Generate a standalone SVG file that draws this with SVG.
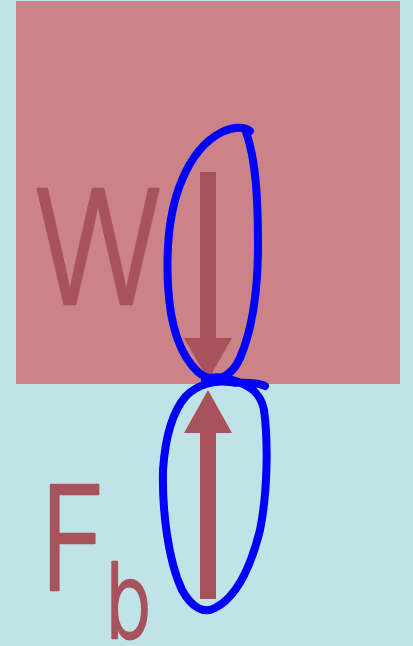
<svg xmlns="http://www.w3.org/2000/svg" width="413" height="646" viewBox="0 0 413 646">
<style>
.lbl{font-family:Inter,"Liberation Sans",Arial,sans-serif;font-weight:300;fill:#a8535b;stroke:#a8535b;stroke-width:2.5;stroke-linejoin:round}
.arrow{fill:#a8535b}
.loop{fill:none;stroke:#0000ff;stroke-width:8;stroke-linecap:round;stroke-linejoin:round}
</style>
<rect x="0" y="0" width="413" height="646" fill="#c0e3e8"/>
<rect id="block" x="16" y="1" width="384" height="383" fill="#cb8289"/>
<g id="connectors">
<path id="weight" class="arrow" d="M200,172 H216 V338 H232 L208,380 L184,338 H200 Z"/>
<path id="buoyancy" class="arrow" d="M200,599 H216 V433 H232 L208,390 L184,433 H200 Z"/>
</g>
<g id="loops">
<path class="loop" d="M250,131 C244,126 232,127 222,132 C206,140 192,156 182,180 C170,208 166,245 168,285 C170,325 180,355 198,372 C212,384 230,380 240,358 C252,330 258,290 258,245 C258,200 256,160 246,132"/>
<path class="loop" d="M265,386 C255,381 240,384 230,382 C215,380 198,384 186,396 C172,412 165,440 163,470 C162,510 168,560 182,590 C192,608 204,614 215,608 C235,598 250,570 260,530 C268,490 268,440 264,410 C261,395 252,385 232,380 C222,377 212,376 205,380"/>
</g>
<g id="label-w"><text class="lbl" font-size="158" transform="translate(34,304) scale(0.84,1)">W</text></g>
<g id="label-fb">
<text class="lbl" font-size="144" transform="translate(40,590) scale(0.78,1)">F</text>
<text class="lbl" font-size="104" transform="translate(106,638) scale(0.72,1)">b</text>
</g>
</svg>
